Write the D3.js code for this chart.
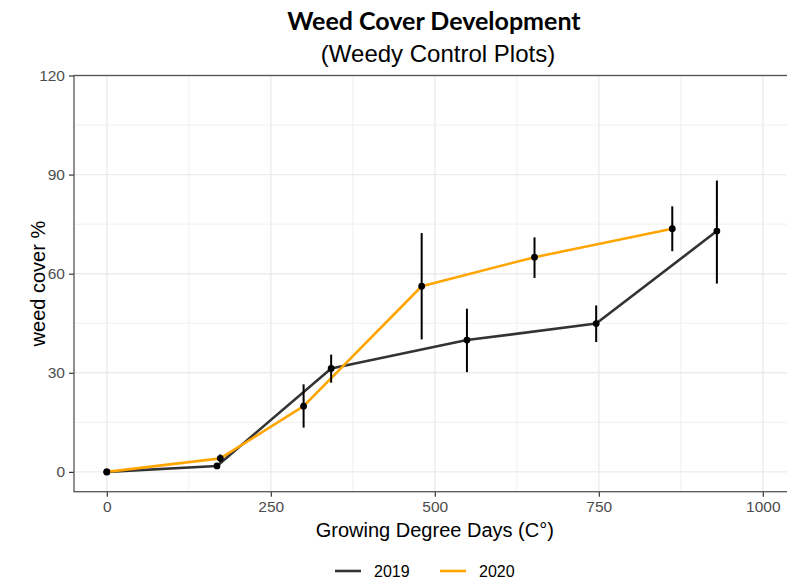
<!DOCTYPE html>
<html><head><meta charset="utf-8">
<script src="https://cdn.jsdelivr.net/npm/d3@7"></script>
<style>html,body{margin:0;padding:0;background:#fff;overflow:hidden}</style>
</head><body>
<svg id="c" width="787" height="581"></svg>
<script>
const years = ["2019", "2020"];
const colors = ["#333333", "#FFA500"];
const gdd2019 = [0, 168, 342, 549, 746, 930];
const cover2019 = [0, 1.8, 31.3, 39.9, 44.9, 72.9];
const lo2019 = [0, 1.0, 27.0, 30.2, 39.3, 57.0];
const hi2019 = [0, 2.6, 35.5, 49.4, 50.4, 88.2];
const gdd2020 = [0, 173, 300, 480, 652, 862];
const cover2020 = [0, 4.1, 19.9, 56.2, 65.0, 73.6];
const lo2020 = [0, 3.0, 13.4, 40.1, 58.7, 66.8];
const hi2020 = [0, 5.3, 26.5, 72.3, 71.0, 80.4];
const xTicks = [0, 250, 500, 750, 1000];
const xMinor = [125, 375, 625, 875];
const yTicks = [0, 30, 60, 90, 120];
const yMinor = [15, 45, 75, 105];

const series = [
  {year: years[0], color: colors[0], pts: gdd2019.map((g,i)=>({x:g, y:cover2019[i], lo:lo2019[i], hi:hi2019[i]}))},
  {year: years[1], color: colors[1], pts: gdd2020.map((g,i)=>({x:g, y:cover2020[i], lo:lo2020[i], hi:hi2020[i]}))}
];

const svg = d3.select("#c");
const L = 74, R = 795.6, T = 75.5, B = 491.7;
const x = d3.scaleLinear().domain([-50, 1050]).range([L, R]);
const y = d3.scaleLinear().domain([-6, 120]).range([B, T]);

// grid
const g = svg.append("g");
g.selectAll(".xm").data(xMinor).join("line").attr("x1", d=>x(d)).attr("x2", d=>x(d)).attr("y1", T).attr("y2", B).attr("stroke", "#EBEBEB").attr("stroke-width", 0.8);
g.selectAll(".ym").data(yMinor).join("line").attr("y1", d=>y(d)).attr("y2", d=>y(d)).attr("x1", L).attr("x2", R).attr("stroke", "#EBEBEB").attr("stroke-width", 0.8);
g.selectAll(".xM").data(xTicks).join("line").attr("x1", d=>x(d)).attr("x2", d=>x(d)).attr("y1", T).attr("y2", B).attr("stroke", "#EBEBEB").attr("stroke-width", 1.4);
g.selectAll(".yM").data(yTicks).join("line").attr("y1", d=>y(d)).attr("y2", d=>y(d)).attr("x1", L).attr("x2", R).attr("stroke", "#EBEBEB").attr("stroke-width", 1.4);

// axes
const xAxis = d3.axisBottom(x).tickValues(xTicks).tickFormat(d3.format("d")).tickSize(5).tickPadding(4);
const yAxis = d3.axisLeft(y).tickValues(yTicks).tickFormat(d3.format("d")).tickSize(5).tickPadding(4);
const gx = svg.append("g").attr("transform", `translate(0,${B})`).call(xAxis);
const gy = svg.append("g").attr("transform", `translate(${L},0)`).call(yAxis);
[gx, gy].forEach(a => {
  a.select(".domain").remove();
  a.selectAll(".tick line").attr("stroke", "#333").attr("stroke-width", 1.2);
  a.selectAll(".tick text").attr("fill", "#4D4D4D").style("font-family", "'Liberation Sans', Arial, sans-serif").style("font-size", "15.5px");
});

// panel border
svg.append("rect").attr("x", L).attr("y", T).attr("width", R-L).attr("height", B-T).attr("fill", "none").attr("stroke", "#555").attr("stroke-width", 1.3);

// lines
const line = d3.line().x(d=>x(d.x)).y(d=>y(d.y));
series.forEach(s => {
  svg.append("path").datum(s.pts).attr("d", line).attr("fill", "none").attr("stroke", s.color).attr("stroke-width", 2.6).attr("stroke-linejoin", "round");
});
series.forEach(s => {
  svg.append("g").selectAll("line").data(s.pts).join("line")
    .attr("x1", d=>x(d.x)).attr("x2", d=>x(d.x)).attr("y1", d=>y(d.lo)).attr("y2", d=>y(d.hi))
    .attr("stroke", "#000").attr("stroke-width", 2);
  svg.append("g").selectAll("circle").data(s.pts).join("circle")
    .attr("cx", d=>x(d.x)).attr("cy", d=>y(d.y)).attr("r", 3.4).attr("fill", "#000");
});

// titles
const sans = "'Liberation Sans', Arial, sans-serif";
svg.append("text").attr("x", 434).attr("y", 30).attr("text-anchor", "middle")
  .style("font-family", "Lato, 'Open Sans', sans-serif").style("font-weight", "bold").style("font-size", "25px").attr("fill", "#000")
  .text("Weed Cover Development");
svg.append("text").attr("x", 438).attr("y", 62).attr("text-anchor", "middle")
  .style("font-family", sans).style("font-size", "24px").attr("fill", "#000")
  .text("(Weedy Control Plots)");
svg.append("text").attr("x", (L+R)/2 - 0).attr("y", 537).attr("text-anchor", "middle")
  .style("font-family", sans).style("font-size", "20px").attr("fill", "#000")
  .text("Growing Degree Days (C°)");
svg.append("text").attr("transform", `translate(45,${(T+B)/2}) rotate(-90)`).attr("text-anchor", "middle")
  .style("font-family", sans).style("font-size", "20px").attr("fill", "#000")
  .text("weed cover %");

// legend
const lg = svg.append("g");
const lx = [335, 440];
series.forEach((s, i) => {
  lg.append("line").attr("x1", lx[i]).attr("x2", lx[i]+26).attr("y1", 571).attr("y2", 571).attr("stroke", s.color).attr("stroke-width", 2.6);
  lg.append("text").attr("x", lx[i]+39).attr("y", 571).attr("dy", "0.36em")
    .style("font-family", sans).style("font-size", "16px").attr("fill", "#000").text(s.year);
});
</script>
</body></html>
